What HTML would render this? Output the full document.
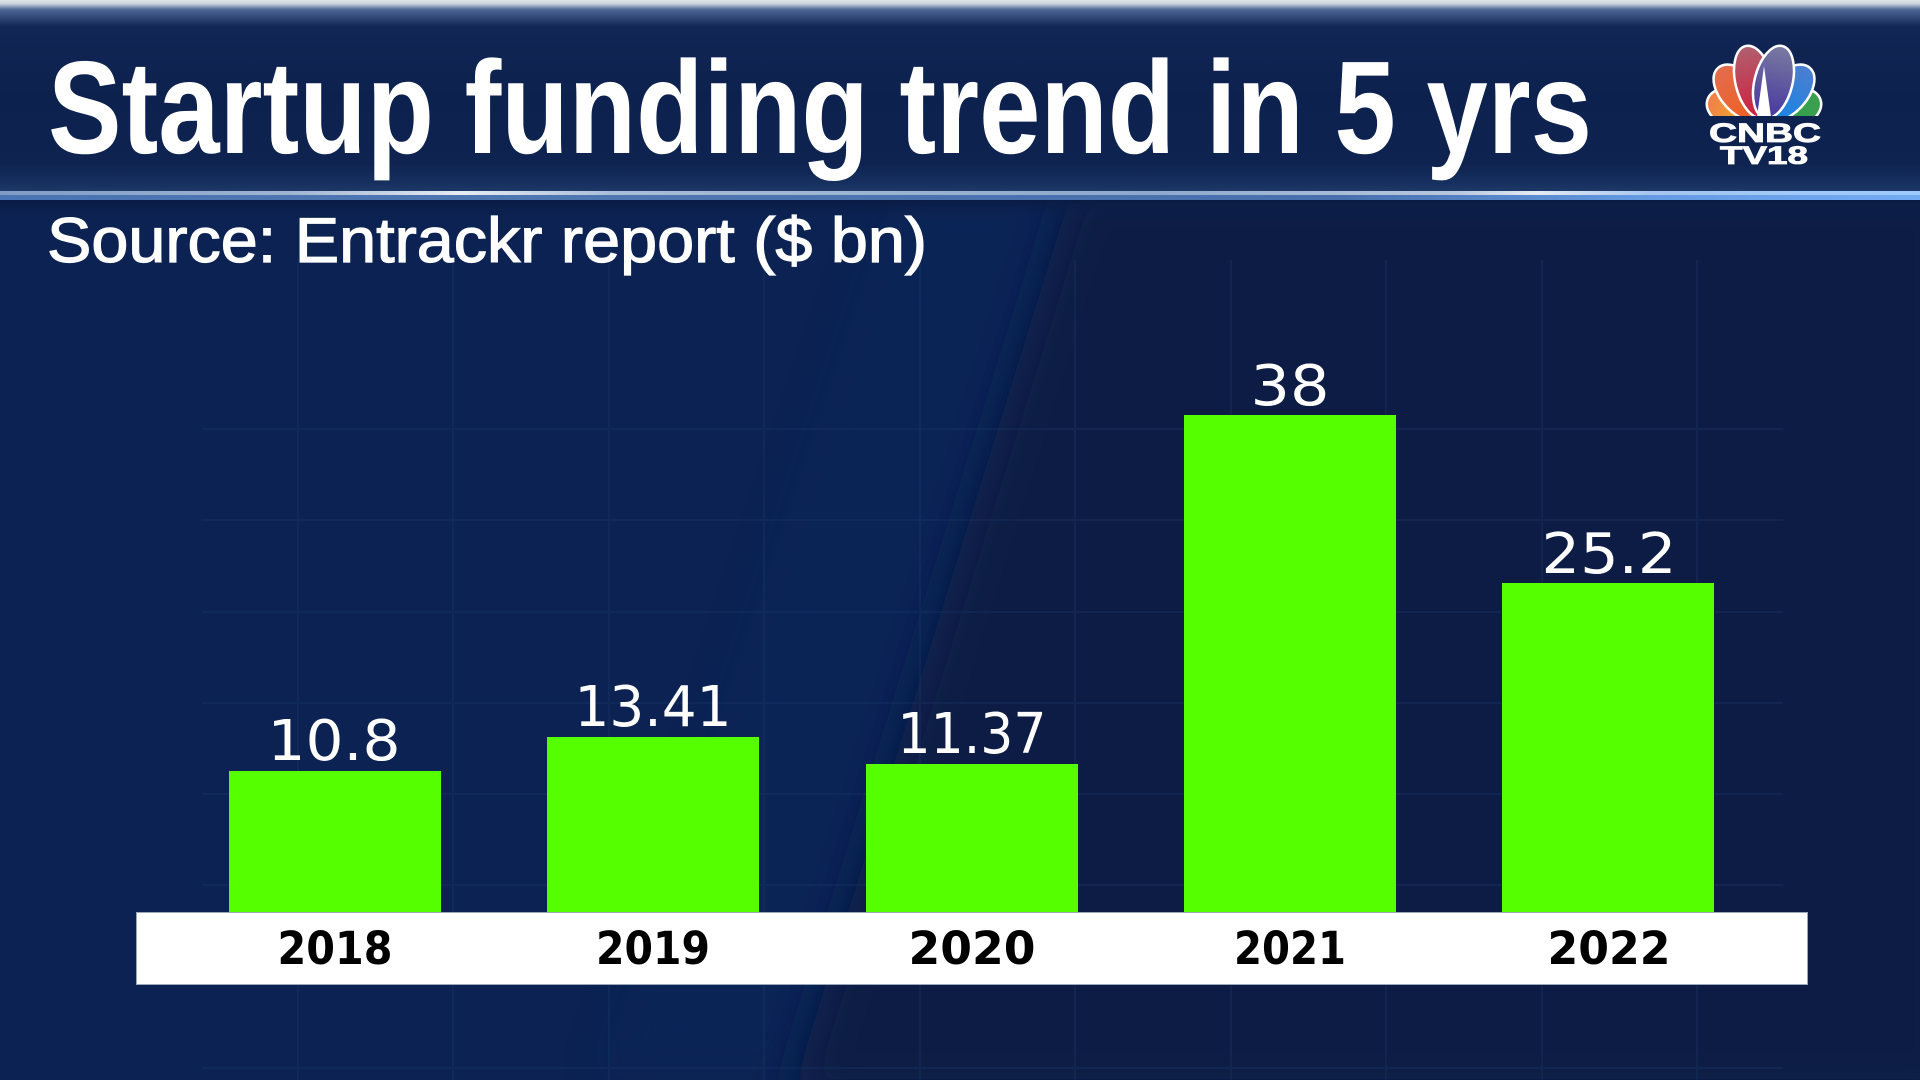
<!DOCTYPE html>
<html>
<head>
<meta charset="utf-8">
<style>
  html,body{margin:0;padding:0;background:#0b2252;}
  body{width:1920px;height:1080px;overflow:hidden;}
  svg{display:block;}
</style>
</head>
<body>
<svg width="1920" height="1080" viewBox="0 0 1920 1080" xmlns="http://www.w3.org/2000/svg">
  <defs>
    <linearGradient id="hdr" x1="0" y1="0" x2="0" y2="1">
      <stop offset="0" stop-color="#e2e6ec"/>
      <stop offset="0.02" stop-color="#c9d1dc"/>
      <stop offset="0.05" stop-color="#4d6695"/>
      <stop offset="0.14" stop-color="#112655"/>
      <stop offset="0.5" stop-color="#0d214e"/>
      <stop offset="0.86" stop-color="#0e2350"/>
      <stop offset="0.96" stop-color="#16305f"/>
      <stop offset="1" stop-color="#1d3868"/>
    </linearGradient>
    <linearGradient id="lineTop" x1="0" y1="0" x2="1" y2="0">
      <stop offset="0" stop-color="#7f9cc6"/>
      <stop offset="0.15" stop-color="#9fb3d2"/>
      <stop offset="0.24" stop-color="#e6ecf4"/>
      <stop offset="0.32" stop-color="#a9bcd8"/>
      <stop offset="0.6" stop-color="#8ea8cc"/>
      <stop offset="0.76" stop-color="#b8c8de"/>
      <stop offset="0.8" stop-color="#e4ebf4"/>
      <stop offset="0.86" stop-color="#a6c6ef"/>
      <stop offset="1" stop-color="#9ccaff"/>
    </linearGradient>
    <linearGradient id="lineBot" x1="0" y1="0" x2="1" y2="0">
      <stop offset="0" stop-color="#4a74b4"/>
      <stop offset="0.3" stop-color="#4e76b0"/>
      <stop offset="0.7" stop-color="#4870ae"/>
      <stop offset="0.85" stop-color="#6399e0"/>
      <stop offset="1" stop-color="#74acf4"/>
    </linearGradient>
    <linearGradient id="under" x1="0" y1="0" x2="0" y2="1">
      <stop offset="0" stop-color="#0a1b42" stop-opacity="0.9"/>
      <stop offset="1" stop-color="#0b2252" stop-opacity="0"/>
    </linearGradient>
    <filter id="blur" x="-20%" y="-20%" width="140%" height="140%">
      <feGaussianBlur stdDeviation="22"/>
    </filter>
    <linearGradient id="fY" x1="0" y1="0" x2="0" y2="1">
      <stop offset="0" stop-color="#ef7d4a"/>
      <stop offset="1" stop-color="#f7c21c"/>
    </linearGradient>
    <linearGradient id="fO" x1="0" y1="0" x2="0" y2="1">
      <stop offset="0" stop-color="#e26c50"/>
      <stop offset="1" stop-color="#f0601a"/>
    </linearGradient>
    <linearGradient id="fR" x1="0" y1="0" x2="0" y2="1">
      <stop offset="0" stop-color="#b06070"/>
      <stop offset="1" stop-color="#d11c3a"/>
    </linearGradient>
    <linearGradient id="fP" x1="0" y1="0" x2="0" y2="1">
      <stop offset="0" stop-color="#7a7ba0"/>
      <stop offset="1" stop-color="#4636a0"/>
    </linearGradient>
    <linearGradient id="fB" x1="0" y1="0" x2="0" y2="1">
      <stop offset="0" stop-color="#4c7ed0"/>
      <stop offset="1" stop-color="#0f86e6"/>
    </linearGradient>
    <linearGradient id="fG" x1="0" y1="0" x2="0" y2="1">
      <stop offset="0" stop-color="#3f9e52"/>
      <stop offset="1" stop-color="#22a540"/>
    </linearGradient>
    <clipPath id="pclip"><rect x="1690" y="30" width="150" height="86"/></clipPath>
  </defs>

  <!-- main background -->
  <rect x="0" y="0" width="1920" height="1080" fill="#0b2252"/>
  <polygon points="900,180 1075,180 790,1080 600,1080" fill="#0e2b62" opacity="0.3" filter="url(#blur)"/>
  <polygon points="1075,180 1960,180 1960,1100 790,1100" fill="#0a1d45" filter="url(#blur)"/>

  <!-- grid -->
  <g stroke="#1b3a6c" stroke-width="2" opacity="0.3">
    <line x1="298" y1="260" x2="298" y2="1080"/>
    <line x1="453" y1="260" x2="453" y2="1080"/>
    <line x1="609" y1="260" x2="609" y2="1080"/>
    <line x1="764" y1="260" x2="764" y2="1080"/>
    <line x1="920" y1="260" x2="920" y2="1080"/>
    <line x1="1075" y1="260" x2="1075" y2="1080"/>
    <line x1="1231" y1="260" x2="1231" y2="1080"/>
    <line x1="1386" y1="260" x2="1386" y2="1080"/>
    <line x1="1542" y1="260" x2="1542" y2="1080"/>
    <line x1="1697" y1="260" x2="1697" y2="1080"/>
    <line x1="202" y1="429" x2="1783" y2="429"/>
    <line x1="202" y1="520" x2="1783" y2="520"/>
    <line x1="202" y1="612" x2="1783" y2="612"/>
    <line x1="202" y1="703" x2="1783" y2="703"/>
    <line x1="202" y1="794" x2="1783" y2="794"/>
    <line x1="202" y1="885" x2="1783" y2="885"/>
    <line x1="202" y1="977" x2="1783" y2="977"/>
    <line x1="202" y1="1068" x2="1783" y2="1068"/>
  </g>

  <!-- header -->
  <rect x="0" y="0" width="1920" height="191" fill="url(#hdr)"/>
  <rect x="0" y="191" width="1920" height="4" fill="url(#lineTop)"/>
  <rect x="0" y="195" width="1920" height="5" fill="url(#lineBot)"/>
  <rect x="0" y="200" width="1920" height="22" fill="url(#under)"/>

  <text x="48" y="153" font-family="'Liberation Sans', Arial, sans-serif" font-weight="bold" font-size="132" fill="#ffffff" textLength="1544" lengthAdjust="spacingAndGlyphs">Startup funding trend in 5 yrs</text>
  <text x="47" y="262" font-family="'Liberation Sans', Arial, sans-serif" font-size="63" fill="#ffffff" stroke="#ffffff" stroke-width="1.2" textLength="880" lengthAdjust="spacingAndGlyphs">Source: Entrackr report ($ bn)</text>

  <!-- logo -->
  <g clip-path="url(#pclip)" stroke="#ffffff" stroke-width="2.5">
    <ellipse cx="1736" cy="109" rx="20" ry="30" transform="rotate(-72 1736 109)" fill="url(#fY)"/>
    <ellipse cx="1792" cy="109" rx="20" ry="30" transform="rotate(72 1792 109)" fill="url(#fG)"/>
    <ellipse cx="1741" cy="93" rx="20" ry="34" transform="rotate(-43 1741 93)" fill="url(#fO)"/>
    <ellipse cx="1787" cy="93" rx="20" ry="34" transform="rotate(43 1787 93)" fill="url(#fB)"/>
    <ellipse cx="1754.5" cy="82" rx="19" ry="37" transform="rotate(-14 1754.5 82)" fill="url(#fR)"/>
    <ellipse cx="1773.5" cy="82" rx="19" ry="37" transform="rotate(14 1773.5 82)" fill="url(#fP)"/>
    <polygon points="1757,117 1764,66 1771,117" fill="#ffffff" stroke="none"/>
  </g>
  <text x="1709" y="142" font-family="'Liberation Sans', Arial, sans-serif" font-weight="bold" font-size="27" fill="#ffffff" stroke="#ffffff" stroke-width="0.8" textLength="112" lengthAdjust="spacingAndGlyphs">CNBC</text>
  <text x="1720" y="164" font-family="'Liberation Sans', Arial, sans-serif" font-weight="bold" font-size="25" fill="#ffffff" stroke="#ffffff" stroke-width="0.8" textLength="88" lengthAdjust="spacingAndGlyphs">TV18</text>

  <!-- bars -->
  <g fill="#55ff00">
    <rect x="229" y="771" width="212" height="141"/>
    <rect x="547" y="737" width="212" height="175"/>
    <rect x="866" y="764" width="212" height="148"/>
    <rect x="1184" y="415" width="212" height="497"/>
    <rect x="1502" y="583" width="212" height="329"/>
  </g>

  <!-- value labels -->
  <g font-family="'DejaVu Sans', 'Liberation Sans', sans-serif" font-size="56" fill="#ffffff" text-anchor="middle">
    <text x="334" y="760" textLength="133" lengthAdjust="spacingAndGlyphs">10.8</text>
    <text x="653" y="726" textLength="157" lengthAdjust="spacingAndGlyphs">13.41</text>
    <text x="972" y="753" textLength="149" lengthAdjust="spacingAndGlyphs">11.37</text>
    <text x="1290" y="405" textLength="79" lengthAdjust="spacingAndGlyphs">38</text>
    <text x="1609" y="573" textLength="135" lengthAdjust="spacingAndGlyphs">25.2</text>
  </g>

  <!-- category band -->
  <rect x="136.5" y="912.5" width="1671" height="72" fill="#ffffff" stroke="#9aa6ba" stroke-width="1"/>
  <g font-family="'DejaVu Sans', 'Liberation Sans', sans-serif" font-weight="bold" font-size="45" fill="#000000" text-anchor="middle">
    <text x="335" y="964" textLength="115" lengthAdjust="spacingAndGlyphs">2018</text>
    <text x="653" y="964" textLength="114" lengthAdjust="spacingAndGlyphs">2019</text>
    <text x="972" y="964" textLength="127" lengthAdjust="spacingAndGlyphs">2020</text>
    <text x="1290" y="964" textLength="112" lengthAdjust="spacingAndGlyphs">2021</text>
    <text x="1609" y="964" textLength="123" lengthAdjust="spacingAndGlyphs">2022</text>
  </g>
</svg>
</body>
</html>
